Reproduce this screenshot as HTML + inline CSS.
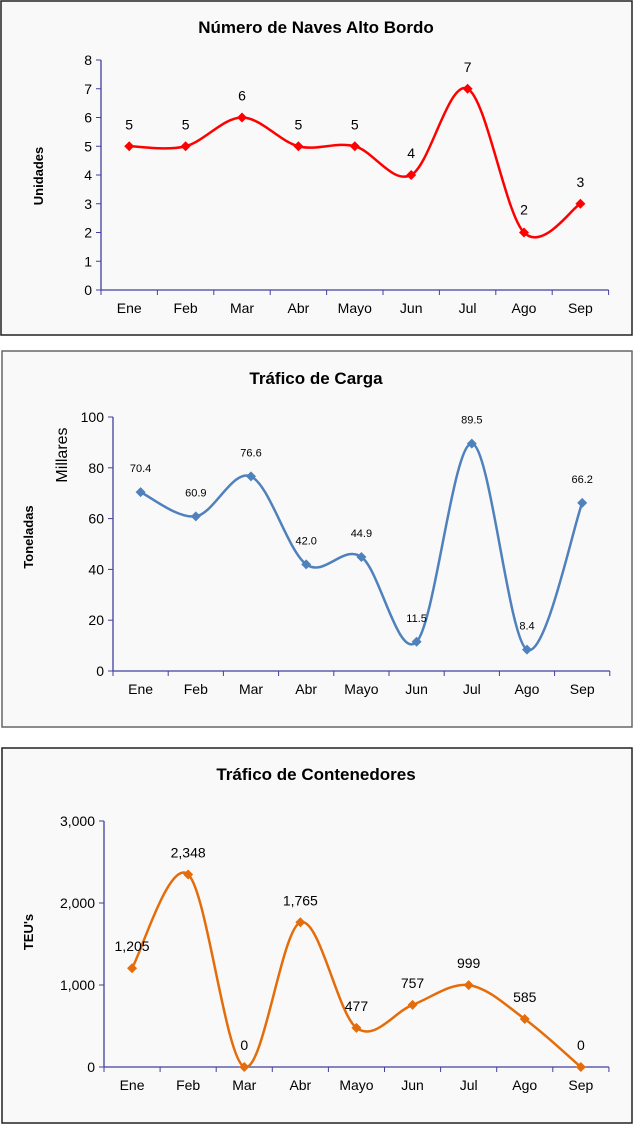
<!DOCTYPE html>
<html><head><meta charset="utf-8"><style>
body{margin:0;background:#fff;width:634px;height:1125px;overflow:hidden}
svg{position:absolute;left:0;top:0}
text{font-family:"Liberation Sans",Arial,sans-serif}
</style></head><body>
<svg id="s" width="634" height="1125" xmlns="http://www.w3.org/2000/svg">
<rect x="1" y="1" width="631" height="334" fill="#f9f9f9" stroke="#222" stroke-width="1.5"/>
<rect x="2" y="351" width="630" height="376" fill="#f9f9f9" stroke="#666" stroke-width="1.5"/>
<rect x="2" y="748" width="630" height="375" fill="#f9f9f9" stroke="#222" stroke-width="1.5"/>
<text x="316" y="33" font-size="17" font-weight="bold" text-anchor="middle">Número de Naves Alto Bordo</text>
<text x="316" y="384" font-size="17" font-weight="bold" text-anchor="middle">Tráfico de Carga</text>
<text x="316" y="780" font-size="17" font-weight="bold" text-anchor="middle">Tráfico de Contenedores</text>
<text transform="translate(43,176) rotate(-90)" font-size="13" font-weight="bold" text-anchor="middle">Unidades</text>
<text transform="translate(33,537) rotate(-90)" font-size="13" font-weight="bold" text-anchor="middle">Toneladas</text>
<text transform="translate(67,455) rotate(-90)" font-size="16" text-anchor="middle">Millares</text>
<text transform="translate(33,932) rotate(-90)" font-size="13" font-weight="bold" text-anchor="middle">TEU's</text>
<g id="g"></g>
</svg>
<script>
var g=document.getElementById('g'),h='';
var M=['Ene','Feb','Mar','Abr','Mayo','Jun','Jul','Ago','Sep'];
function chart(o){
 var ax=o.ax,y0=o.y0,y1=o.y1,sp=o.sp,max=o.max,st=o.st;
 var Y=function(v){return y0-(v/max)*(y0-y1)};
 var x1=ax+9*sp;
 h+='<line x1="'+ax+'" y1="'+y1+'" x2="'+ax+'" y2="'+y0+'" stroke="#4040a0" stroke-width="1.3"/>';
 h+='<line x1="'+ax+'" y1="'+y0+'" x2="'+x1+'" y2="'+y0+'" stroke="#4040a0" stroke-width="1.3"/>';
 for(var v=0;v<=max;v+=st){var y=Y(v);h+='<line x1="'+(ax-5)+'" y1="'+y+'" x2="'+ax+'" y2="'+y+'" stroke="#4040a0"/>';
  h+='<text x="'+(ax-9)+'" y="'+(y+5)+'" font-size="14" text-anchor="end">'+o.fmt(v)+'</text>';}
 for(var i=0;i<=9;i++){var x=ax+i*sp;h+='<line x1="'+x+'" y1="'+y0+'" x2="'+x+'" y2="'+(y0+5)+'" stroke="#4040a0"/>';}
 var P=[];for(i=0;i<9;i++){var cx=ax+(i+.5)*sp;P.push([cx,Y(o.d[i])]);
  h+='<text x="'+cx+'" y="'+(y0+23)+'" font-size="14" text-anchor="middle">'+M[i]+'</text>';}
 var d='M'+P[0][0]+','+P[0][1];
 for(i=0;i<8;i++){var p0=P[Math.max(i-1,0)],p1=P[i],p2=P[i+1],p3=P[Math.min(i+2,8)],t=6;
  d+=' C'+(p1[0]+(p2[0]-p0[0])/t)+','+(p1[1]+(p2[1]-p0[1])/t)+' '+(p2[0]-(p3[0]-p1[0])/t)+','+(p2[1]-(p3[1]-p1[1])/t)+' '+p2[0]+','+p2[1];}
 h+='<path d="'+d+'" fill="none" stroke="'+o.c+'" stroke-width="2.5"/>';
 for(i=0;i<9;i++){var x=P[i][0],y=P[i][1];
  h+='<path d="M'+(x-5)+','+y+' L'+x+','+(y-5)+' L'+(x+5)+','+y+' L'+x+','+(y+5)+'Z" fill="'+o.c+'"/>';
  h+='<text x="'+x+'" y="'+(y+o.lo[i])+'" font-size="'+o.lf+'" text-anchor="middle">'+o.lab[i]+'</text>';}
}
chart({ax:101,y0:290,y1:60,sp:56.4,max:8,st:1,fmt:function(v){return v},d:[5,5,6,5,5,4,7,2,3],c:'#ff0000',
 lab:[5,5,6,5,5,4,7,2,3],lo:[-17,-17,-17,-17,-17,-17,-17,-18,-17],lf:14});
chart({ax:113,y0:671,y1:417,sp:55.2,max:100,st:20,fmt:function(v){return v},d:[70.4,60.9,76.6,42.0,44.9,11.5,89.5,8.4,66.2],c:'#4f81bd',
 lab:['70.4','60.9','76.6','42.0','44.9','11.5','89.5','8.4','66.2'],lo:[-20,-20,-20,-20,-20,-20,-20,-20,-20],lf:11});
chart({ax:104,y0:1067,y1:821,sp:56.1,max:3000,st:1000,fmt:function(v){return v?(v/1000)+',000':'0'},d:[1205,2348,0,1765,477,757,999,585,0],c:'#e46c0a',
 lab:['1,205','2,348','0','1,765','477','757','999','585','0'],lo:[-17,-17,-17,-17,-17,-17,-17,-17,-17],lf:14});
g.innerHTML=h;
</script>
</body></html>
